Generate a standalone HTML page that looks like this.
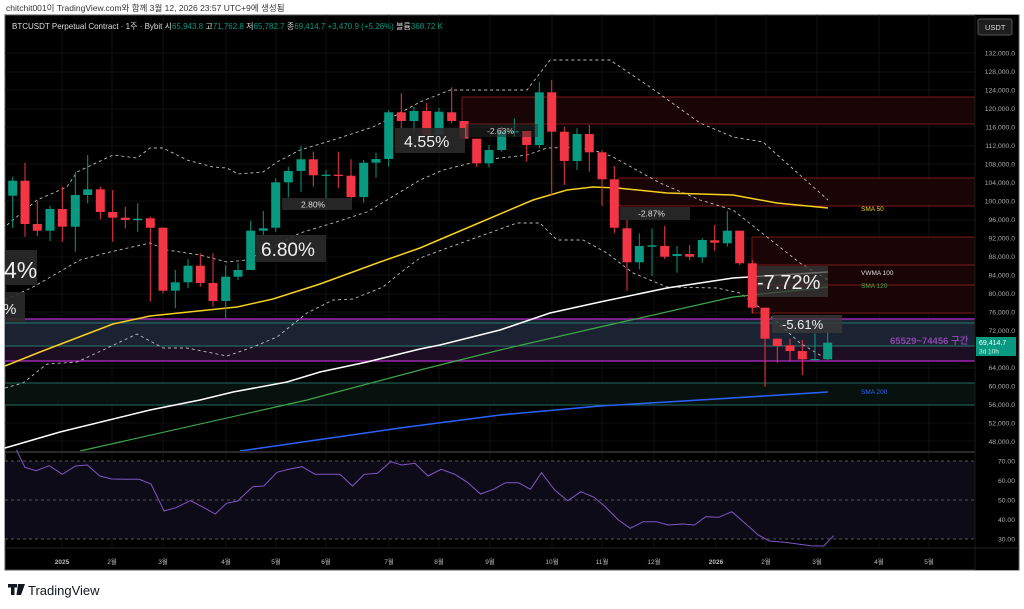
<!DOCTYPE html>
<html><head><meta charset="utf-8"><style>
html,body{margin:0;padding:0;background:#fff;width:1024px;height:609px;overflow:hidden}
svg{display:block;font-family:"Liberation Sans","Noto Sans CJK KR",sans-serif}
</style></head><body>
<svg width="1024" height="609" viewBox="0 0 1024 609" xmlns="http://www.w3.org/2000/svg">
<rect width="1024" height="609" fill="#fff"/>
<text x="6" y="11" font-size="8.5" fill="#333">chitchit001이 TradingView.com와 함께 3월 12, 2026 23:57 UTC+9에 생성됨</text>
<rect x="5" y="15" width="1014" height="555" fill="#000" stroke="#555" stroke-width="1"/>
<!-- grid -->
<g stroke="#101010" stroke-width="1">
<line x1="62" y1="15" x2="62" y2="548"/><line x1="112" y1="15" x2="112" y2="548"/><line x1="163" y1="15" x2="163" y2="548"/><line x1="226" y1="15" x2="226" y2="548"/><line x1="276" y1="15" x2="276" y2="548"/><line x1="326" y1="15" x2="326" y2="548"/><line x1="389" y1="15" x2="389" y2="548"/><line x1="439" y1="15" x2="439" y2="548"/><line x1="490" y1="15" x2="490" y2="548"/><line x1="552" y1="15" x2="552" y2="548"/><line x1="602" y1="15" x2="602" y2="548"/><line x1="654" y1="15" x2="654" y2="548"/><line x1="716" y1="15" x2="716" y2="548"/><line x1="766" y1="15" x2="766" y2="548"/><line x1="817" y1="15" x2="817" y2="548"/><line x1="879" y1="15" x2="879" y2="548"/><line x1="929" y1="15" x2="929" y2="548"/>
<line x1="5" y1="53" x2="975" y2="53"/><line x1="5" y1="72" x2="975" y2="72"/><line x1="5" y1="90" x2="975" y2="90"/><line x1="5" y1="109" x2="975" y2="109"/><line x1="5" y1="127" x2="975" y2="127"/><line x1="5" y1="146" x2="975" y2="146"/><line x1="5" y1="164" x2="975" y2="164"/><line x1="5" y1="183" x2="975" y2="183"/><line x1="5" y1="201" x2="975" y2="201"/><line x1="5" y1="220" x2="975" y2="220"/><line x1="5" y1="238" x2="975" y2="238"/><line x1="5" y1="257" x2="975" y2="257"/><line x1="5" y1="275" x2="975" y2="275"/><line x1="5" y1="294" x2="975" y2="294"/><line x1="5" y1="312" x2="975" y2="312"/><line x1="5" y1="331" x2="975" y2="331"/><line x1="5" y1="349" x2="975" y2="349"/><line x1="5" y1="368" x2="975" y2="368"/><line x1="5" y1="386" x2="975" y2="386"/><line x1="5" y1="405" x2="975" y2="405"/><line x1="5" y1="423" x2="975" y2="423"/><line x1="5" y1="441" x2="975" y2="441"/>
</g>
<text x="12" y="29" font-size="8" fill="#ddd">BTCUSDT Perpetual Contract · 1주 · Bybit <tspan fill="#ddd">시</tspan><tspan fill="#089981">65,943.8</tspan> 고<tspan fill="#089981">71,762.8</tspan> 저<tspan fill="#089981">65,782.7</tspan> 종<tspan fill="#089981">69,414.7</tspan> <tspan fill="#089981">+3,470.9 (+5.26%)</tspan> 볼륨<tspan fill="#089981">368.72 K</tspan></text>
<!-- zones -->
<rect x="462" y="97" width="513" height="27" fill="#1a0506"/>
<line x1="462" y1="97" x2="975" y2="97" stroke="#7a1a1a"/><line x1="462" y1="124" x2="975" y2="124" stroke="#7a1a1a"/><line x1="462" y1="97" x2="462" y2="124" stroke="#7a1a1a"/>
<rect x="618" y="178" width="357" height="28" fill="#1a0506"/>
<line x1="618" y1="178" x2="975" y2="178" stroke="#7a1a1a"/><line x1="618" y1="206" x2="975" y2="206" stroke="#7a1a1a"/>
<rect x="752" y="237" width="223" height="76" fill="#1a0506"/>
<line x1="752" y1="237" x2="975" y2="237" stroke="#7a1a1a"/><line x1="752" y1="265" x2="975" y2="265" stroke="#7a1a1a"/><line x1="752" y1="285" x2="975" y2="285" stroke="#7a1a1a"/><line x1="752" y1="313" x2="975" y2="313" stroke="#7a1a1a"/><line x1="752" y1="237" x2="752" y2="313" stroke="#7a1a1a"/>
<rect x="5" y="319" width="970" height="27" fill="#1b2232"/>
<rect x="5" y="346" width="970" height="15" fill="#1e0e24"/>
<line x1="5" y1="319" x2="975" y2="319" stroke="#9c27b0" stroke-width="1.5"/>
<line x1="5" y1="323" x2="975" y2="323" stroke="#26786b"/>
<line x1="5" y1="346" x2="975" y2="346" stroke="#26786b"/>
<line x1="5" y1="361" x2="975" y2="361" stroke="#9c27b0" stroke-width="1.5"/>
<rect x="5" y="383" width="970" height="22" fill="#07120f"/>
<line x1="5" y1="383" x2="975" y2="383" stroke="#1f6b5c"/><line x1="5" y1="405" x2="975" y2="405" stroke="#1f6b5c"/>
<!-- dashed bands -->
<g fill="none" stroke="#bbb" stroke-width="0.9" stroke-dasharray="3,3">
<polyline points="7,225 37,200 67,187 77,172 113,155 137,158 150,148 163,148 187,160 213,167 227,168 238,174 263,172 277,162 300,150 333,140 373,127 387,120 420,102 450,90 527,90 550,60 610,60 650,87 700,123 733,137 763,142 783,160 828,200"/>
<polyline points="5,300 33,287 80,260 110,252 150,243 167,250 200,255 227,262 247,260 273,247 300,233 333,223 367,212 387,200 420,180 443,170 483,160 527,155 547,148 577,147 600,152 613,157 660,183 700,200 733,210 767,237 800,263 828,280"/>
<polyline points="5,388 23,383 47,364 77,362 103,350 137,334 163,348 187,348 227,356 253,347 277,337 307,313 333,300 353,299 383,287 400,273 420,258 450,247 517,223 540,223 557,240 583,240 607,253 633,273 667,287 717,288 740,293 767,313 800,343 828,360"/>
</g>
<!-- MAs -->
<g fill="none" stroke-width="1.5">
<polyline stroke="#f5d020" points="5,366 40,352 113,324 150,316 237,307 273,299 320,284 380,262 420,248 467,228 533,200 567,190 593,187 617,188 667,193 733,195 777,203 828,208"/>
<polyline stroke="#fff" points="5,448 60,432 150,410 200,400 233,392 287,382 320,372 367,362 420,349 440,345 500,330 550,313 600,302 667,288 733,278 828,272"/>
<polyline stroke="#3fa64a" stroke-width="1.2" points="80,451 307,400 420,370 500,350 600,327 733,297 828,287"/>
<polyline stroke="#2962ff" points="240,451 400,428 500,415 600,406 700,400 828,392"/>
</g>
<!-- candles -->
<g>
<g fill="#089981" stroke="#089981">
<line x1="12.7" y1="176.7" x2="12.7" y2="228"/><rect x="8.2" y="180.7" width="9" height="15" stroke="none"/>
<line x1="50" y1="205.7" x2="50" y2="241"/><rect x="45.5" y="209" width="9" height="21.7" stroke="none"/>
<line x1="75.3" y1="171.7" x2="75.3" y2="251.7"/><rect x="70.8" y="195" width="9" height="31.7" stroke="none"/>
<line x1="87.7" y1="155" x2="87.7" y2="203.3"/><rect x="83.2" y="189.3" width="9" height="5.7" stroke="none"/>
<line x1="137.7" y1="203.3" x2="137.7" y2="231.7"/><rect x="133.2" y="218.7" width="9" height="1.5" stroke="none"/>
<line x1="175.3" y1="270" x2="175.3" y2="308.3"/><rect x="170.8" y="282.3" width="9" height="8.4" stroke="none"/>
<line x1="188" y1="259.3" x2="188" y2="288.3"/><rect x="183.5" y="265.7" width="9" height="16.6" stroke="none"/>
<line x1="225.7" y1="265" x2="225.7" y2="318.3"/><rect x="221.2" y="276.7" width="9" height="24.3" stroke="none"/>
<line x1="238" y1="263.3" x2="238" y2="280"/><rect x="233.5" y="270" width="9" height="6.7" stroke="none"/>
<line x1="250.7" y1="221" x2="250.7" y2="270"/><rect x="246.2" y="230.7" width="9" height="39.3" stroke="none"/>
<line x1="263.3" y1="211" x2="263.3" y2="235"/><rect x="258.8" y="228.3" width="9" height="2.4" stroke="none"/>
<line x1="275.7" y1="178.3" x2="275.7" y2="231.7"/><rect x="271.2" y="182.3" width="9" height="45.4" stroke="none"/>
<line x1="288.3" y1="166.7" x2="288.3" y2="197.3"/><rect x="283.8" y="171" width="9" height="11.3" stroke="none"/>
<line x1="301" y1="146" x2="301" y2="191.7"/><rect x="296.5" y="159.3" width="9" height="11.7" stroke="none"/>
<line x1="326" y1="170" x2="326" y2="199.3"/><rect x="321.5" y="174.7" width="9" height="1.3" stroke="none"/>
<line x1="363.7" y1="160" x2="363.7" y2="202.7"/><rect x="359.2" y="162.7" width="9" height="34.3" stroke="none"/>
<line x1="376" y1="152.7" x2="376" y2="177.7"/><rect x="371.5" y="159" width="9" height="3.7" stroke="none"/>
<line x1="388.7" y1="110" x2="388.7" y2="166.7"/><rect x="384.2" y="112.3" width="9" height="46.7" stroke="none"/>
<line x1="414" y1="106.7" x2="414" y2="132.7"/><rect x="409.5" y="111" width="9" height="10" stroke="none"/>
<line x1="439" y1="108" x2="439" y2="135.3"/><rect x="434.5" y="111.7" width="9" height="23.6" stroke="none"/>
<line x1="489" y1="145" x2="489" y2="167.3"/><rect x="484.5" y="150" width="9" height="13.3" stroke="none"/>
<line x1="501.7" y1="126.7" x2="501.7" y2="151.7"/><rect x="497.2" y="131" width="9" height="19" stroke="none"/>
<line x1="514.3" y1="118.3" x2="514.3" y2="136.7"/><rect x="509.8" y="131" width="9" height="1.5" stroke="none"/>
<line x1="539.3" y1="81.7" x2="539.3" y2="148.3"/><rect x="534.8" y="92.3" width="9" height="52.7" stroke="none"/>
<line x1="577" y1="128.3" x2="577" y2="170"/><rect x="572.5" y="134" width="9" height="27" stroke="none"/>
<line x1="639.3" y1="233.3" x2="639.3" y2="269.3"/><rect x="634.8" y="246" width="9" height="16.3" stroke="none"/>
<line x1="652" y1="228.3" x2="652" y2="276"/><rect x="647.5" y="245.3" width="9" height="1.5" stroke="none"/>
<line x1="677" y1="246" x2="677" y2="272.7"/><rect x="672.5" y="254" width="9" height="2" stroke="none"/>
<line x1="702.3" y1="238.3" x2="702.3" y2="262.7"/><rect x="697.8" y="240" width="9" height="17.3" stroke="none"/>
<line x1="727.3" y1="210.7" x2="727.3" y2="246.7"/><rect x="722.8" y="230.7" width="9" height="12.6" stroke="none"/>
<line x1="815" y1="333.3" x2="815" y2="360"/><rect x="810.5" y="359" width="9" height="1.2" stroke="none"/>
<line x1="827.7" y1="331.7" x2="827.7" y2="360"/><rect x="823.2" y="342.7" width="9" height="16.6" stroke="none"/>
</g>
<g fill="#f23645" stroke="#f23645">
<line x1="25" y1="162.7" x2="25" y2="236.7"/><rect x="20.5" y="180.7" width="9" height="43.3" stroke="none"/>
<line x1="37.3" y1="200.7" x2="37.3" y2="236"/><rect x="32.8" y="224" width="9" height="6.7" stroke="none"/>
<line x1="62.3" y1="186.7" x2="62.3" y2="241.7"/><rect x="57.8" y="209" width="9" height="17.7" stroke="none"/>
<line x1="100.3" y1="186.7" x2="100.3" y2="219.3"/><rect x="95.8" y="189.3" width="9" height="22.7" stroke="none"/>
<line x1="112.7" y1="190" x2="112.7" y2="241.7"/><rect x="108.2" y="212" width="9" height="5.7" stroke="none"/>
<line x1="125.3" y1="206.7" x2="125.3" y2="228.3"/><rect x="120.8" y="217.7" width="9" height="2.3" stroke="none"/>
<line x1="150.3" y1="216.7" x2="150.3" y2="301.7"/><rect x="145.8" y="218.3" width="9" height="9.4" stroke="none"/>
<line x1="163" y1="227.7" x2="163" y2="293.3"/><rect x="158.5" y="227.7" width="9" height="63" stroke="none"/>
<line x1="200.3" y1="253.3" x2="200.3" y2="286.7"/><rect x="195.8" y="265.7" width="9" height="17.3" stroke="none"/>
<line x1="213" y1="253.3" x2="213" y2="306.7"/><rect x="208.5" y="283" width="9" height="18" stroke="none"/>
<line x1="313.3" y1="151.7" x2="313.3" y2="186.7"/><rect x="308.8" y="159.3" width="9" height="16" stroke="none"/>
<line x1="338.3" y1="151.7" x2="338.3" y2="188.3"/><rect x="333.8" y="174.7" width="9" height="1.3" stroke="none"/>
<line x1="351" y1="159.3" x2="351" y2="200"/><rect x="346.5" y="175.7" width="9" height="21.3" stroke="none"/>
<line x1="401.3" y1="93.3" x2="401.3" y2="128.3"/><rect x="396.8" y="112.3" width="9" height="8.7" stroke="none"/>
<line x1="426.7" y1="103" x2="426.7" y2="135.3"/><rect x="422.2" y="111" width="9" height="24.3" stroke="none"/>
<line x1="451.7" y1="87.3" x2="451.7" y2="123.3"/><rect x="447.2" y="112.3" width="9" height="8.7" stroke="none"/>
<line x1="464" y1="121" x2="464" y2="140"/><rect x="459.5" y="121" width="9" height="17.7" stroke="none"/>
<line x1="476.7" y1="138.7" x2="476.7" y2="166.7"/><rect x="472.2" y="138.7" width="9" height="24.6" stroke="none"/>
<line x1="526.7" y1="131" x2="526.7" y2="161.7"/><rect x="522.2" y="131" width="9" height="14" stroke="none"/>
<line x1="551.7" y1="80" x2="551.7" y2="195"/><rect x="547.2" y="92.3" width="9" height="39.4" stroke="none"/>
<line x1="564.3" y1="126.7" x2="564.3" y2="185"/><rect x="559.8" y="131.7" width="9" height="29.3" stroke="none"/>
<line x1="589.3" y1="125" x2="589.3" y2="171.7"/><rect x="584.8" y="134" width="9" height="18.3" stroke="none"/>
<line x1="602" y1="150" x2="602" y2="206"/><rect x="597.5" y="152.3" width="9" height="27" stroke="none"/>
<line x1="614.3" y1="166" x2="614.3" y2="233.3"/><rect x="609.8" y="179.3" width="9" height="48.4" stroke="none"/>
<line x1="627" y1="219.3" x2="627" y2="290.7"/><rect x="622.5" y="228.3" width="9" height="34" stroke="none"/>
<line x1="664.7" y1="226" x2="664.7" y2="259"/><rect x="660.2" y="246" width="9" height="10.7" stroke="none"/>
<line x1="689.7" y1="245" x2="689.7" y2="260"/><rect x="685.2" y="254" width="9" height="2.7" stroke="none"/>
<line x1="714.7" y1="225" x2="714.7" y2="250.7"/><rect x="710.2" y="240.3" width="9" height="2.4" stroke="none"/>
<line x1="739.7" y1="230.7" x2="739.7" y2="265"/><rect x="735.2" y="230.7" width="9" height="32.6" stroke="none"/>
<line x1="752.3" y1="260" x2="752.3" y2="313.3"/><rect x="747.8" y="263.3" width="9" height="44.4" stroke="none"/>
<line x1="765" y1="307.7" x2="765" y2="386.7"/><rect x="760.5" y="307.7" width="9" height="31" stroke="none"/>
<line x1="777.3" y1="338.7" x2="777.3" y2="362.7"/><rect x="772.8" y="338.7" width="9" height="7.3" stroke="none"/>
<line x1="790" y1="338.7" x2="790" y2="361"/><rect x="785.5" y="345.3" width="9" height="5.7" stroke="none"/>
<line x1="802.3" y1="340" x2="802.3" y2="375"/><rect x="797.8" y="351" width="9" height="8.3" stroke="none"/>
</g>
</g>
<!-- measure labels -->
<rect x="5" y="250" width="32" height="35" fill="#2a2a2a" opacity="0.9"/><text x="4" y="278" font-size="23" fill="#eee">4%</text>
<rect x="5" y="292" width="20" height="30" fill="#2a2a2a" opacity="0.9"/><text x="3" y="314" font-size="15" fill="#eee">%</text>
<rect x="256" y="235" width="70" height="27" fill="#2a2a2a" opacity="0.9"/><text x="261" y="256" font-size="19" fill="#eee">6.80%</text>
<rect x="282" y="198" width="70" height="12" fill="#2a2a2a" opacity="0.9"/><text x="301" y="207.5" font-size="8.5" fill="#ddd">2.80%</text>
<rect x="395" y="128" width="70" height="25" fill="#2a2a2a" opacity="0.9"/><text x="404" y="147" font-size="16" fill="#eee">4.55%</text>
<rect x="466" y="124" width="72" height="13" fill="#2a2a2a" opacity="0.5"/><text x="487" y="134" font-size="8.5" fill="#ccc">-2.63%</text>
<rect x="620" y="207" width="70" height="13" fill="#2a2a2a" opacity="0.9"/><text x="638" y="216.5" font-size="8.5" fill="#ddd">-2.87%</text>
<rect x="757" y="266" width="71" height="31" fill="#3a3a3a" opacity="0.75"/><text x="757" y="289" font-size="20" fill="#eee">-7.72%</text>
<rect x="772" y="315" width="70" height="18" fill="#3a3a3a" opacity="0.8"/><text x="782" y="329" font-size="13" fill="#eee">-5.61%</text>
<!-- series labels -->
<text x="861" y="211" font-size="6.5" fill="#f5d020">SMA 50</text>
<text x="861" y="275" font-size="6.5" fill="#ddd">VWMA 100</text>
<text x="861" y="288" font-size="6.5" fill="#3fa64a">SMA 120</text>
<text x="861" y="394" font-size="6.5" fill="#2962ff">SMA 200</text>
<text x="890" y="344" font-size="9.5" font-weight="bold" fill="#8e44ad">65529~74456 구간</text>
<!-- pane separator -->
<line x1="5" y1="452" x2="1018" y2="452" stroke="#2a2a2a" stroke-width="2"/>
<!-- RSI -->
<rect x="5" y="461" width="970" height="78" fill="#0e0b18"/>
<g stroke="#555" stroke-dasharray="3,3"><line x1="5" y1="461" x2="975" y2="461"/><line x1="5" y1="500" x2="975" y2="500"/><line x1="5" y1="539" x2="975" y2="539"/></g>
<polyline fill="none" stroke="#7e57c2" stroke-width="1" points="16.4,450 24.9,467.3 36.1,470.7 49.2,465.7 62.4,474.3 75.5,466 87.3,465 99.8,476 111.6,479 124.7,479.3 139.2,479.3 151,484 164.1,511 175.9,507.7 190.4,500.7 202.2,506.7 215.3,514 226.5,503.3 237.6,501 252.7,486.7 263.9,486 277,472.3 288.8,469.3 302,466.7 315.1,474.3 328.2,474.3 340,474.3 352.5,486 364.3,474.3 377.4,473.3 390.6,461.7 401.7,465 414.9,463.3 428,476 441.1,469.3 454.2,474 467.4,482.3 480.5,494 493.6,489.3 505.4,482.7 518.6,482.7 530.4,489.3 541.5,472.7 554.7,490 567.8,500.7 580.9,491.7 594.1,497.3 605.2,506.7 618.4,520 630.2,528.3 643.3,521.7 656.4,521.7 668.2,525 682.7,524 694.5,525 705.6,516.7 718.8,517.3 731.9,511.7 745,523.3 758.2,535 769.3,541 784.4,542.3 797.6,544 810.7,545.7 823.8,546 833.6,535.7"/>
<!-- right axis -->
<rect x="975" y="15" width="43" height="555" fill="#000"/>
<line x1="975" y1="15" x2="975" y2="570" stroke="#1a1a1a"/>
<rect x="978" y="19" width="34" height="16" rx="2" fill="#1e1e1e" stroke="#555"/><text x="985" y="30" font-size="7.5" fill="#ddd">USDT</text>
<g font-size="6.8" fill="#aaa" text-anchor="end">
<text x="1015" y="55.5">132,000.0</text><text x="1015" y="74">128,000.0</text><text x="1015" y="92.5">124,000.0</text><text x="1015" y="111">120,000.0</text><text x="1015" y="129.5">116,000.0</text><text x="1015" y="148">112,000.0</text><text x="1015" y="166.5">108,000.0</text><text x="1015" y="185">104,000.0</text><text x="1015" y="203.5">100,000.0</text><text x="1015" y="222">96,000.0</text><text x="1015" y="240.5">92,000.0</text><text x="1015" y="259">88,000.0</text><text x="1015" y="277.5">84,000.0</text><text x="1015" y="296">80,000.0</text><text x="1015" y="314.5">76,000.0</text><text x="1015" y="333">72,000.0</text><text x="1015" y="370">64,000.0</text><text x="1015" y="388.5">60,000.0</text><text x="1015" y="407">56,000.0</text><text x="1015" y="425.5">52,000.0</text><text x="1015" y="444">48,000.0</text>
<text x="1015" y="463.5">70.00</text><text x="1015" y="483">60.00</text><text x="1015" y="502.5">50.00</text><text x="1015" y="522">40.00</text><text x="1015" y="541.5">30.00</text>
</g>
<rect x="976" y="337" width="40" height="19" fill="#089981"/>
<text x="979" y="345" font-size="7" fill="#fff">69,414.7</text><text x="979" y="353.5" font-size="6.5" fill="#d0f0e8">3d 10h</text>
<!-- time axis -->
<line x1="5" y1="548" x2="1018" y2="548" stroke="#222"/>
<g font-size="6.5" fill="#bbb" text-anchor="middle">
<text x="62" y="564" font-weight="bold">2025</text><text x="112" y="564">2월</text><text x="163" y="564">3월</text><text x="226" y="564">4월</text><text x="276" y="564">5월</text><text x="326" y="564">6월</text><text x="389" y="564">7월</text><text x="439" y="564">8월</text><text x="490" y="564">9월</text><text x="552" y="564">10월</text><text x="602" y="564">11월</text><text x="654" y="564">12월</text><text x="716" y="564" font-weight="bold">2026</text><text x="766" y="564">2월</text><text x="817" y="564">3월</text><text x="879" y="564">4월</text><text x="929" y="564">5월</text>
</g>
<!-- logo -->
<rect x="8" y="584" width="9" height="3.5" fill="#131722"/><rect x="11" y="584" width="3.5" height="11" fill="#131722"/><polygon points="18,584 25,584 21,595 16.5,595" fill="#131722"/>
<text x="28" y="595" font-size="13" fill="#131722">TradingView</text>
</svg>
</body></html>
